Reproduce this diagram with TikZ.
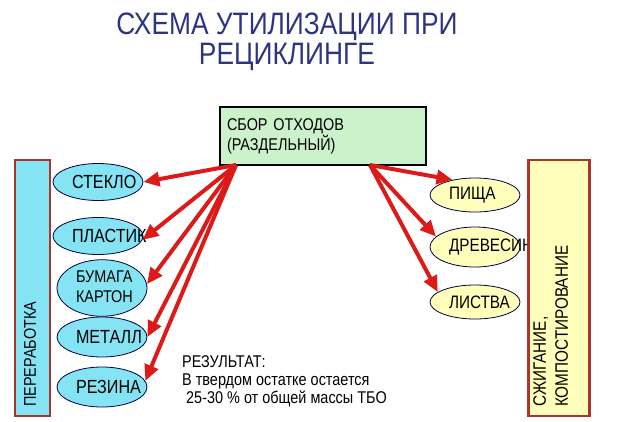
\documentclass[tikz,border=0pt]{standalone}
\usepackage{fontspec}
\setmainfont{Liberation Sans}[FakeStretch=0.85]
\usetikzlibrary{arrows.meta,shapes.geometric,positioning}

\definecolor{titleblue}{HTML}{2E3580}
\definecolor{boxgreen}{HTML}{CCF2CC}
\definecolor{itemcyan}{HTML}{84E4F4}
\definecolor{itemyellow}{HTML}{FFFFBB}
\definecolor{barred}{HTML}{A8362C}
\definecolor{arrowred}{HTML}{DD1A1A}

% item text starts a little left of the ellipse centre
\newcommand{\itemtext}[1]{\makebox[0pt][l]{\hspace*{-26pt}#1}}

\begin{document}
\begin{tikzpicture}[x=1pt,y=-1pt,>={Triangle[length=16pt,width=14pt]}]
    % Diagram styles
    \tikzstyle{title}=[text=titleblue,font=\fontsize{31}{30}\selectfont,align=center,inner sep=0pt]
    \tikzstyle{collect box}=[draw=black,line width=2.2pt,fill=boxgreen,font=\fontsize{17}{20}\selectfont,
                             text width=192pt,align=left,inner xsep=7pt,minimum height=58pt]
    \tikzstyle{item}=[ellipse,draw={rgb:black,3;blue,1},line width=0.8pt,inner sep=0pt,
                      minimum width=90pt,minimum height=37pt]
    \tikzstyle{cyan item}=[item,fill=itemcyan,font=\fontsize{19}{19}\selectfont]
    \tikzstyle{yellow item}=[item,fill=itemyellow,minimum height=34pt,font=\fontsize{18}{18}\selectfont]
    \tikzstyle{bar}=[draw=barred,line width=2.5pt,inner sep=0pt,minimum height=256pt]
    \tikzstyle{bar text}=[rotate=90,inner sep=0pt,align=left]
    \tikzstyle{flow}=[->,color=arrowred,line width=4pt]

    \useasboundingbox (0,0) rectangle (630,421);

    % Title
    \node[title] (title) [anchor=north] at (287,13) {СХЕМА УТИЛИЗАЦИИ ПРИ\\РЕЦИКЛИНГЕ};

    % Collection box
    \node[collect box] (collect) at (323,136) {СБОР ОТХОДОВ\\(РАЗДЕЛЬНЫЙ)};
    \coordinate (outL) at (236,165);
    \coordinate (outR) at (370,165);

    % Recyclable items
    \node[cyan item] (glass)   at (98,182)  {\itemtext{СТЕКЛО}};
    \node[cyan item] (plastic) at (98,236)  {\itemtext{ПЛАСТИК}};
    \node[cyan item] (paper)   at (102,288) [minimum height=43pt,font=\fontsize{17}{20}\selectfont]
        {\itemtext{\begin{tabular}{@{}l@{}}БУМАГА\\КАРТОН\end{tabular}}};
    \node[cyan item] (metal)   at (102,337) [minimum height=40pt] {\itemtext{МЕТАЛЛ}};
    \node[cyan item] (rubber)  at (102,387) [minimum height=40pt] {\itemtext{РЕЗИНА}};

    % Organic items
    \node[yellow item] (food)   at (475,195) {\itemtext{ПИЩА}};
    \node[yellow item] (wood)   at (475,247) [minimum height=40pt] {\itemtext{ДРЕВЕСИНА}};
    \node[yellow item] (leaves) at (475,302) {\itemtext{ЛИСТВА}};

    % Side bars
    \node[bar,fill=itemcyan,minimum width=35pt] (recycle) at (32.5,288) {};
    \node[bar text,anchor=west,font=\fontsize{17}{17}\selectfont] (recycle text) at (30,407) {ПЕРЕРАБОТКА};
    \node[bar,fill=itemyellow,minimum width=61pt] (burn) at (559,288) {};
    \node[bar text,anchor=north west,font=\fontsize{18}{22}\selectfont] (burn text) at (533,407)
        {СЖИГАНИЕ,\\КОМПОСТИРОВАНИЕ};

    % Result note
    \node[anchor=north west,inner sep=0pt,align=left,font=\fontsize{17}{18}\selectfont] (result) at (182,355)
        {РЕЗУЛЬТАТ:\\В твердом остатке остается\\\hspace*{4pt}25-30 \% от общей массы ТБО};

    % Arrows
    \path[flow]
    (outL) edge (glass.east)
           edge (plastic.-5)
           edge (paper.5)
           edge (metal.east)
           edge (rubber.8)
    (outR) edge (food.146)
           edge (wood.165)
           edge (leaves.165);

\end{tikzpicture}
\end{document}
